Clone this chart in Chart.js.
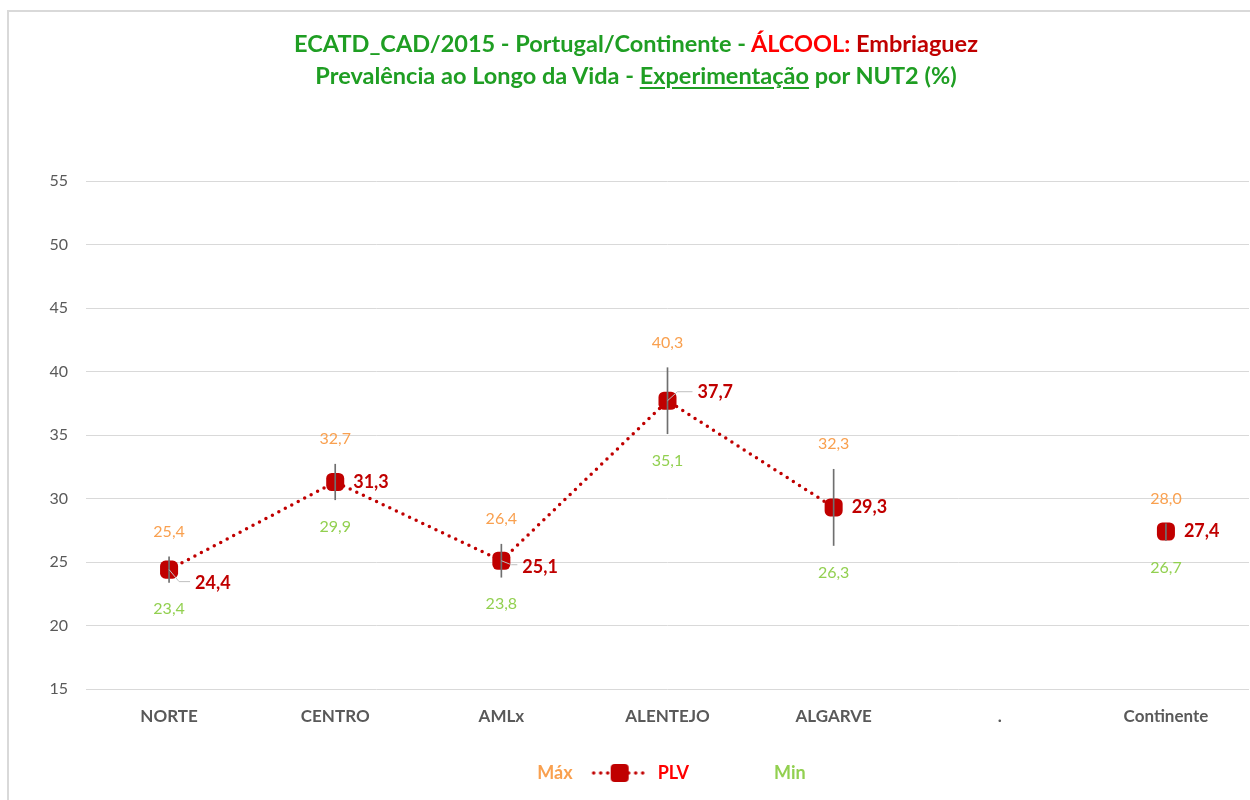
<!DOCTYPE html>
<html lang="pt">
  <head>
    <meta charset="UTF-8" />
    <title>ECATD_CAD/2015 - Embriaguez</title>
    <script src="https://cdn.jsdelivr.net/npm/chart.js"></script>
    <style>
      html, body { margin: 0; padding: 0; background: #fff; width: 1250px; height: 800px; overflow: hidden; }
      #frame { position: absolute; left: 7px; top: 10px; width: 1300px; height: 850px; border: 2px solid #d9d9d9; box-sizing: border-box; }
      #wrap { position: absolute; left: 0; top: 0; width: 1272px; height: 800px; }
      #title {
        position: absolute; left: 0; top: 27px; width: 1272px; text-align: center;
        font-family: Lato, "Open Sans", sans-serif; font-weight: bold; font-size: 23.5px; line-height: 32px;
        color: #1f9e23;
      }
      #title .red { color: #ff0000; }
      #title .dark { color: #c00000; }
      #title u { text-decoration-thickness: 2px; text-underline-offset: 3px; }
    </style>
  </head>
  <body>
    <div id="frame"></div>
    <div id="wrap">
      <canvas id="chart" width="1272" height="800"></canvas>
    </div>
    <div id="title">
      ECATD_CAD/2015 - Portugal/Continente - <span class="red">ÁLCOOL:</span> <span class="dark">Embriaguez</span><br />
      Prevalência ao Longo da Vida - <u>Experimentação</u> por NUT2 (%)
    </div>

    <script>
      // values
      const categories = ["NORTE", "CENTRO", "AMLx", "ALENTEJO", "ALGARVE", ".", "Continente"];
      const plvValues = [24.4, 31.3, 25.1, 37.7, 29.3, null, 27.4];
      const maxValues = [25.4, 32.7, 26.4, 40.3, 32.3, null, 28.0];
      const minValues = [23.4, 29.9, 23.8, 35.1, 26.3, null, 26.7];
      const yMin = 15;
      const yMax = 55;
      const yStep = 5;

      const FONT = "Lato, 'Open Sans', sans-serif";
      const fmt = v => v.toFixed(1).replace(".", ",");

      // legend symbols
      function makeIcon(withLine) {
        const c = document.createElement("canvas");
        c.width = 58; c.height = 20;
        if (withLine) {
          const g = c.getContext("2d");
          g.strokeStyle = "#c00000";
          g.lineWidth = 3.5;
          g.lineCap = "round";
          g.setLineDash([0, 7]);
          g.beginPath(); g.moveTo(3, 10); g.lineTo(56, 10); g.stroke();
          g.setLineDash([]);
          g.fillStyle = "#c00000";
          g.beginPath(); g.roundRect(20, 1, 18, 18, 4); g.fill();
        }
        return c;
      }
      const blankIcon = makeIcon(false);
      const plvIcon = makeIcon(true);

      // data labels drawn at the positions the scales give each point
      const valueLabels = {
        id: "valueLabels",
        afterDatasetsDraw(chart, args, opts) {
          const ctx = chart.ctx;
          chart.data.datasets.forEach((ds, di) => {
            const st = opts.styles[ds.label];
            if (!st) return;
            const meta = chart.getDatasetMeta(di);
            meta.data.forEach((pt, i) => {
              const v = ds.data[i];
              if (v == null) return;
              const nudge = (st.nudge && st.nudge[i]) || [0, 0];
              const tx = pt.x + st.dx + nudge[0];
              const ty = pt.y + st.dy + nudge[1];
              ctx.save();
              if (nudge[0] || nudge[1]) {
                // leader line like Excel draws for moved labels
                ctx.strokeStyle = "#bfbfbf";
                ctx.lineWidth = 1;
                ctx.beginPath();
                const ly = ty + (nudge[1] > 0 ? -2 : 0);
                ctx.moveTo(pt.x, pt.y);
                ctx.lineTo(pt.x + 10, ly);
                ctx.lineTo(tx - 5, ly);
                ctx.stroke();
              }
              ctx.font = st.font;
              ctx.fillStyle = st.color;
              ctx.textAlign = st.align;
              ctx.textBaseline = "middle";
              ctx.fillText(fmt(v), tx, ty);
              ctx.restore();
            });
          });
        }
      };

      const rangeData = categories.map((c, i) =>
        minValues[i] == null ? null : [minValues[i], maxValues[i]]
      );

      new Chart(document.getElementById("chart"), {
        data: {
          labels: categories,
          datasets: [
            {
              type: "bar",
              label: "range",
              data: rangeData,
              backgroundColor: "#6f6f6f",
              borderWidth: 0,
              barThickness: 1,
              order: 0
            },
            {
              type: "line",
              label: "PLV",
              data: plvValues,
              borderColor: "#c00000",
              backgroundColor: "#c00000",
              borderWidth: 3.5,
              borderDash: [0, 7.3],
              borderCapStyle: "round",
              pointStyle: "rectRounded",
              pointRadius: 10.5,
              pointBorderWidth: 0,
              spanGaps: false,
              order: 1
            },
            {
              type: "line",
              label: "Máx",
              data: maxValues,
              showLine: false,
              pointRadius: 0,
              order: 2
            },
            {
              type: "line",
              label: "Min",
              data: minValues,
              showLine: false,
              pointRadius: 0,
              order: 3
            }
          ]
        },
        options: {
          responsive: false,
          animation: false,
          layout: { padding: { top: 181, right: 23, left: 27, bottom: 8 } },
          scales: {
            x: {
              offset: true,
              grid: { display: false },
              border: { display: false },
              ticks: {
                color: "#595959",
                padding: 9,
                font: { family: FONT, size: 17, weight: "bold" }
              },
              afterFit: s => { s.height = 57; }
            },
            y: {
              min: yMin,
              max: yMax,
              grid: { color: "#d9d9d9", lineWidth: 1, drawTicks: false },
              border: { display: false },
              ticks: {
                stepSize: yStep,
                color: "#595959",
                padding: 18,
                font: { family: FONT, size: 16 }
              },
              afterFit: s => { s.width = 59; }
            }
          },
          plugins: {
            tooltip: { enabled: false },
            legend: {
              position: "bottom",
              labels: {
                usePointStyle: true,
                pointStyleWidth: 58,
                padding: 18,
                font: { family: FONT, size: 18, weight: "bold" },
                generateLabels: () => [
                  { text: "Máx", fontColor: "#f9a04f", pointStyle: blankIcon, fillStyle: "transparent", strokeStyle: "transparent", lineWidth: 0, hidden: false, datasetIndex: 2 },
                  { text: "PLV", fontColor: "#ff0000", pointStyle: plvIcon, fillStyle: "#c00000", strokeStyle: "#c00000", lineWidth: 0, hidden: false, datasetIndex: 1 },
                  { text: "Min", fontColor: "#92d050", pointStyle: blankIcon, fillStyle: "transparent", strokeStyle: "transparent", lineWidth: 0, hidden: false, datasetIndex: 3 }
                ]
              }
            },
            valueLabels: {
              styles: {
                "PLV": {
                  font: "bold 18px " + FONT, color: "#c00000", align: "left", dx: 18, dy: 0,
                  nudge: { 0: [8, 14], 2: [3, 6], 3: [12, -9] }
                },
                "Máx": { font: "16px " + FONT, color: "#f9a04f", align: "center", dx: 0, dy: -25 },
                "Min": { font: "16px " + FONT, color: "#92d050", align: "center", dx: 0, dy: 27 }
              }
            }
          }
        },
        plugins: [valueLabels]
      });
    </script>
  </body>
</html>
